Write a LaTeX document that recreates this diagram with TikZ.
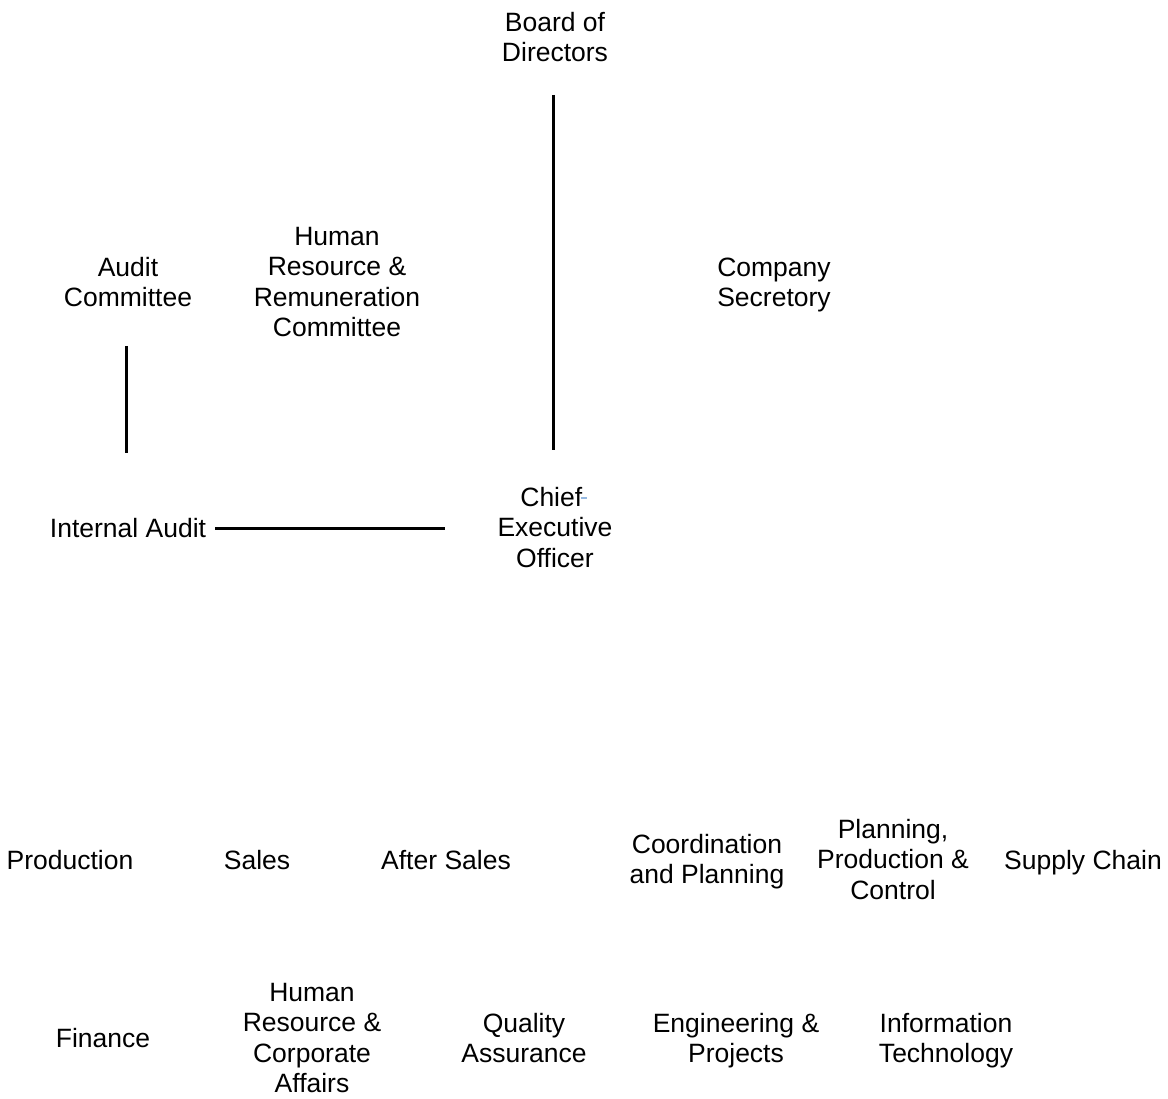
\documentclass[tikz,border=0pt]{standalone}
\usepackage{fontspec}
\setmainfont{Liberation Sans}
\definecolor{markblue}{RGB}{150,185,225}
\begin{document}
\begin{tikzpicture}[x=1pt,y=-1pt,
  lbl/.style={align=center,inner sep=0pt,yshift=-3.6pt,
    font=\fontsize{26.5}{30.5}\selectfont,
    execute at begin node=\strut, execute at end node=\strut},
  conn/.style={line width=3pt,black}]
\useasboundingbox[fill=white] (0,0) rectangle (1168,1099);
\node[lbl] (board) at (555,38) {Board of\\Directors};
\node[lbl] (audit) at (128,283) {Audit\\Committee};
\node[lbl] (hrrc) at (337,283) {Human\\Resource \&\\Remuneration\\Committee};
\node[lbl] (sec) at (774,283) {Company\\Secretory};
\node[lbl] (ia) at (128,528) {Internal Audit};
\node[lbl] (ceo) at (555,528) {Chief\kern7.4pt\\Executive\\Officer};
\node[lbl] (prod) at (70,860) {Production};
\node[lbl] (sales) at (257,860) {Sales};
\node[lbl] (after) at (446,860) {After Sales};
\node[lbl] (coord) at (707,860) {Coordination\\and Planning};
\node[lbl] (ppc) at (893,860) {Planning,\\Production \&\\Control};
\node[lbl] (supply) at (1083,860) {Supply Chain};
\node[lbl] (fin) at (103,1038) {Finance};
\node[lbl] (hrca) at (312,1039) {Human\\Resource \&\\Corporate\\Affairs};
\node[lbl] (qa) at (524,1039) {Quality\\Assurance};
\node[lbl] (eng) at (736,1039) {Engineering \&\\Projects};
\node[lbl] (it) at (946,1039) {Information\\Technology};
\coordinate (boardc) at (553,38);
\coordinate (ceoc) at (553,528);
\coordinate (auditc) at (126,283);
\coordinate (iac) at (126,528);
\draw[conn,shorten <=57pt,shorten >=78pt] (boardc) -- (ceoc);
\draw[conn,shorten <=63pt,shorten >=75pt] (auditc) -- (iac);
\draw[conn,shorten <=87pt,shorten >=108pt] (ia.center |- ceoc) -- (ceoc);
\coordinate (mark) at (584,498);
\draw[line width=1.6pt,markblue] ([xshift=-3pt]mark) -- ([xshift=3pt]mark);
\end{tikzpicture}
\end{document}
